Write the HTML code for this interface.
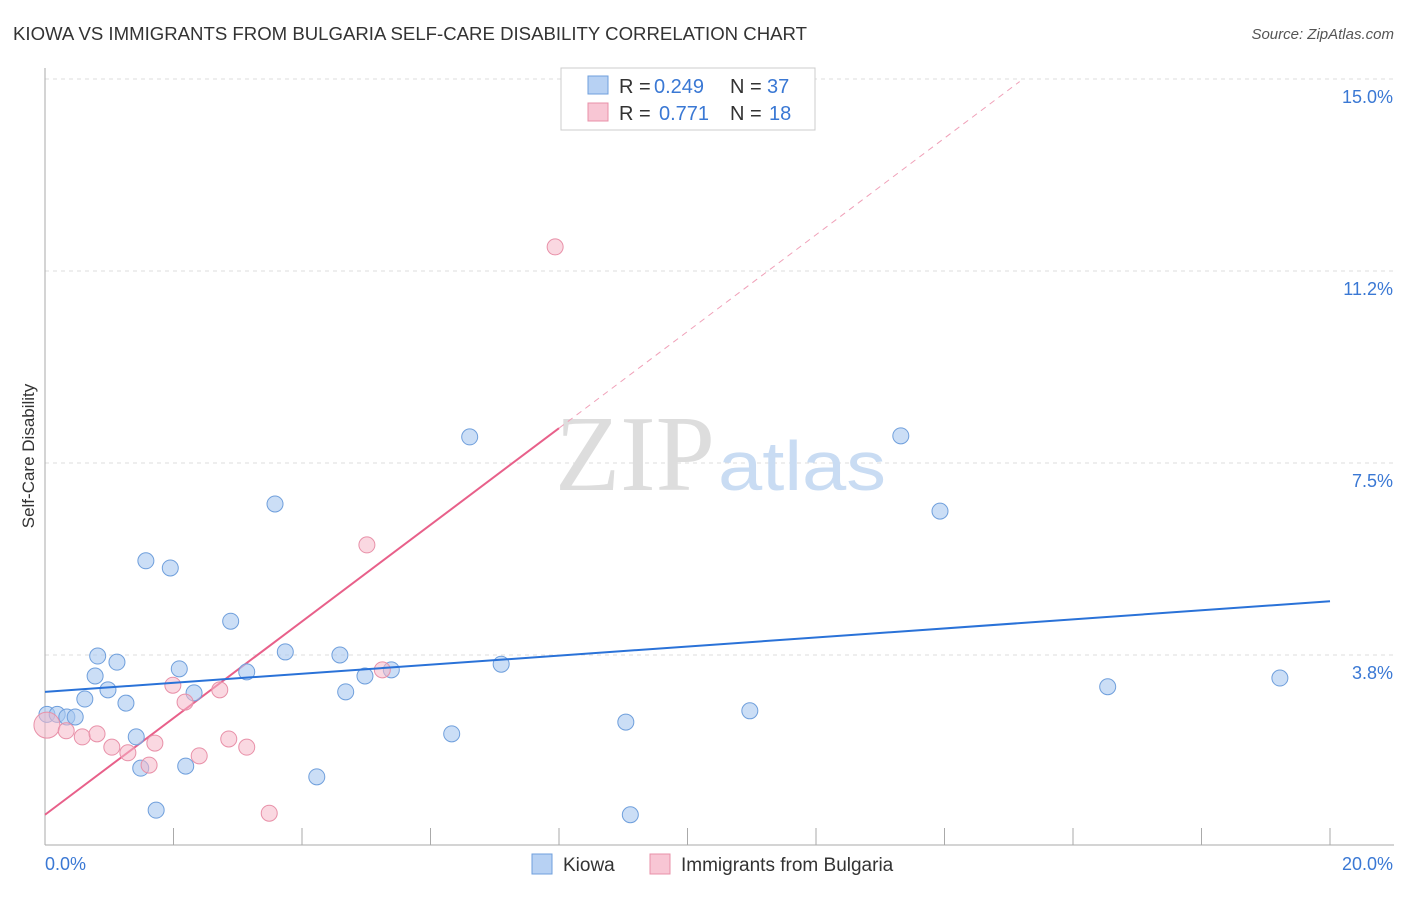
<!DOCTYPE html>
<html><head><meta charset="utf-8"><style>
body{margin:0;background:#fff;font-family:"Liberation Sans",sans-serif;}
</style></head><body>
<svg width="1406" height="892" xmlns="http://www.w3.org/2000/svg" font-family="Liberation Sans, sans-serif">
<text x="13" y="40" font-size="18" fill="#333" textLength="794" lengthAdjust="spacingAndGlyphs">KIOWA VS IMMIGRANTS FROM BULGARIA SELF-CARE DISABILITY CORRELATION CHART</text>
<text x="1394" y="39" font-size="15" fill="#555" text-anchor="end" font-style="italic">Source: ZipAtlas.com</text>
<text x="34" y="456" font-size="17" fill="#333" text-anchor="middle" transform="rotate(-90 34 456)">Self-Care Disability</text>
<g id="grid"></g>
<text x="715" y="490" font-size="108" fill="#ddd" text-anchor="end" font-family="Liberation Serif, serif" textLength="160" lengthAdjust="spacingAndGlyphs">ZIP</text>
<text x="718" y="490" font-size="70" fill="#c9dcf3" textLength="168" lengthAdjust="spacingAndGlyphs">atlas</text>
<g id="lines"></g>
<g id="pts"></g>
<g>
<rect x="561" y="68" width="254" height="62" fill="#fff" stroke="#ccc"/>
<rect x="588" y="76" width="20" height="18" fill="#b7d1f3" stroke="#6f9fdc"/>
<rect x="588" y="103" width="20" height="18" fill="#f8c6d4" stroke="#e890a8"/>
<text x="619" y="93" font-size="20" fill="#333">R =</text>
<text x="654" y="93" font-size="20" fill="#3a78d4">0.249</text>
<text x="730" y="93" font-size="20" fill="#333">N =</text>
<text x="767" y="93" font-size="20" fill="#3a78d4">37</text>
<text x="619" y="120" font-size="20" fill="#333">R =</text>
<text x="659" y="120" font-size="20" fill="#3a78d4">0.771</text>
<text x="730" y="120" font-size="20" fill="#333">N =</text>
<text x="769" y="120" font-size="20" fill="#3a78d4">18</text>
</g>
<g>
<rect x="532" y="854" width="20" height="20" fill="#b7d1f3" stroke="#6f9fdc"/>
<text x="563" y="871" font-size="19" fill="#333">Kiowa</text>
<rect x="650" y="854" width="20" height="20" fill="#f8c6d4" stroke="#e890a8"/>
<text x="681" y="871" font-size="19" fill="#333">Immigrants from Bulgaria</text>
</g>
</svg>
<script>
const yTicks=[3.75,7.5,11.25,15];
const yTickLabels=["3.8%","7.5%","11.2%","15.0%"];
const xTicks=[0,2,4,6,8,10,12,14,16,18,20];
const kiowaX=[0.03,0.19,0.34,0.47,0.62,0.78,0.82,0.98,1.12,1.26,1.42,1.49,1.57,1.73,1.95,2.09,2.19,2.32,2.89,3.14,3.58,3.74,4.23,4.59,4.68,4.98,5.39,6.33,6.61,7.10,9.04,9.11,10.97,13.32,13.93,16.54,19.22];
const kiowaY=[2.59,2.59,2.54,2.54,2.89,3.34,3.73,3.07,3.61,2.81,2.15,1.54,5.59,0.72,5.45,3.48,1.58,3.01,4.41,3.42,6.70,3.81,1.37,3.75,3.03,3.34,3.46,2.21,8.01,3.57,2.44,0.63,2.66,8.03,6.56,3.13,3.30];
const bulgX=[0.03,0.33,0.58,0.81,1.04,1.29,1.62,1.71,1.99,2.18,2.40,2.72,2.86,3.14,3.49,5.01,5.25,7.94];
const bulgY=[2.38,2.27,2.15,2.21,1.95,1.84,1.60,2.03,3.16,2.83,1.78,3.07,2.11,1.95,0.66,5.90,3.46,11.72];
const kiowaTrend=[3.03,4.80];
const bulgTrend=[0.63,8.18,15.17,14.95];
const X=v=>45+v*64.25, Y=v=>847-v*51.2;
const NS="http://www.w3.org/2000/svg";
function mk(tag,attrs,parent){const e=document.createElementNS(NS,tag);for(const k in attrs)e.setAttribute(k,attrs[k]);parent.appendChild(e);return e;}
const g=document.getElementById('grid');
yTicks.forEach((t,i)=>{
 const l=mk('line',{x1:45,x2:1394,y1:Y(t),y2:Y(t),stroke:'#ddd','stroke-dasharray':'4,4'},g);
 
 
 const tx=mk('text',{x:1393,y:Y(t)+24,'font-size':18,fill:'#3a78d4','text-anchor':'end'},g);
 tx.textContent=yTickLabels[i];
 
 
});
const ax=mk('line',{x1:45,x2:1394,y1:845,y2:845,stroke:'#aaa'},g);


const ay=mk('line',{x1:45,x2:45,y1:68,y2:845,stroke:'#aaa'},g);


xTicks.forEach(t=>{
 const l=mk('line',{x1:X(t),x2:X(t),y1:828,y2:845,stroke:'#aaa'},g);
 
 
});
const xl0=mk('text',{x:45,y:870,'font-size':18,fill:'#3a78d4'},g);xl0.textContent="0.0%";


const xl1=mk('text',{x:1393,y:870,'font-size':18,fill:'#3a78d4','text-anchor':'end'},g);xl1.textContent="20.0%";


const L=document.getElementById('lines');
const pl=mk('line',{x1:X(0),y1:Y(bulgTrend[0]),x2:X(8),y2:Y(bulgTrend[1]),stroke:'#e8608a','stroke-width':2},L);


const pd=mk('line',{x1:X(8),y1:Y(bulgTrend[1]),x2:X(bulgTrend[2]),y2:Y(bulgTrend[3]),stroke:'#f0a0b8','stroke-width':1,'stroke-dasharray':'6,5'},L);


const P=document.getElementById('pts');
kiowaX.forEach((x,i)=>{
 const c=mk('circle',{cx:X(x),cy:Y(kiowaY[i]),r:8,fill:'rgba(168,200,240,0.6)',stroke:'#6f9fdc','stroke-width':1},P);
 
 
});
bulgX.forEach((x,i)=>{
 const c=mk('circle',{cx:X(x),cy:Y(bulgY[i]),r:i==0?13:8,fill:'rgba(245,184,200,0.55)',stroke:'#e890a8','stroke-width':1},P);
 
 
});
const bl=mk('line',{x1:X(0),y1:Y(kiowaTrend[0]),x2:X(20),y2:Y(kiowaTrend[1]),stroke:'#2a72d8','stroke-width':2},P);


</script>
</body></html>
